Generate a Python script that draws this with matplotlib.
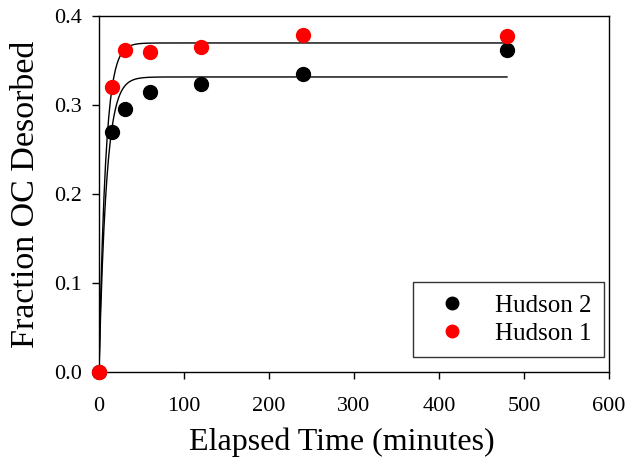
import numpy as np
import matplotlib
matplotlib.use("Agg")
import matplotlib.pyplot as plt

plt.rcParams['font.family'] = ['Liberation Serif', 'DejaVu Serif']

# elapsed time (minutes)
time_min = [0, 15, 30, 60, 120, 240, 480]

# fraction OC desorbed
hudson2 = [0.0, 0.270, 0.295, 0.315, 0.324, 0.335, 0.362]
hudson1 = [0.0, 0.320, 0.362, 0.360, 0.365, 0.379, 0.378]

# first-order fit parameters: plateau, rate constant (1/min)
fit_hudson2 = (0.3315, 0.115)
fit_hudson1 = (0.3697, 0.13)

t_fit = np.linspace(0, 480, 500)


def first_order(t, plateau, k):
    return plateau * (1 - np.exp(-k * t))


fig = plt.figure(figsize=(6.29, 4.63), dpi=100)
ax = fig.add_axes([99 / 629, 1 - 372 / 463, 510 / 629, 356 / 463])

ax.plot(t_fit, first_order(t_fit, *fit_hudson2), color='black', lw=1)
ax.plot(t_fit, first_order(t_fit, *fit_hudson1), color='black', lw=1)

ax.plot(time_min, hudson2, 'o', color='black', ms=10, label='Hudson 2', clip_on=False, zorder=3)
ax.plot(time_min, hudson1, 'o', color='red', ms=10, label='Hudson 1', clip_on=False, zorder=4)

ax.set_xlim(0, 600)
ax.set_ylim(0, 0.4)
ax.set_xticks([0, 100, 200, 300, 400, 500, 600])
ax.set_yticks([0.0, 0.1, 0.2, 0.3, 0.4])
ax.set_yticklabels(['0.0', '0.1', '0.2', '0.3', '0.4'])
ax.tick_params(direction='out', length=5, width=1, labelsize=16)
ax.tick_params(axis='x', pad=13)
ax.tick_params(axis='y', pad=7)

ax.set_xlabel('Elapsed Time (minutes)', fontsize=23)
ax.xaxis.set_label_coords(0.476, -0.156)
ax.set_ylabel('Fraction OC Desorbed', fontsize=24.5, labelpad=10)

for s in ax.spines.values():
    s.set_linewidth(1)

leg = ax.legend(loc='lower right', bbox_to_anchor=(0.990, 0.042), fontsize=18,
                frameon=True, fancybox=False, edgecolor='black', markerscale=0.9,
                handletextpad=0.68, borderpad=0.5, labelspacing=0.2, handlelength=2.1,
                borderaxespad=0)
leg.get_frame().set_linewidth(1)

fig.savefig('out.png', dpi=100)
